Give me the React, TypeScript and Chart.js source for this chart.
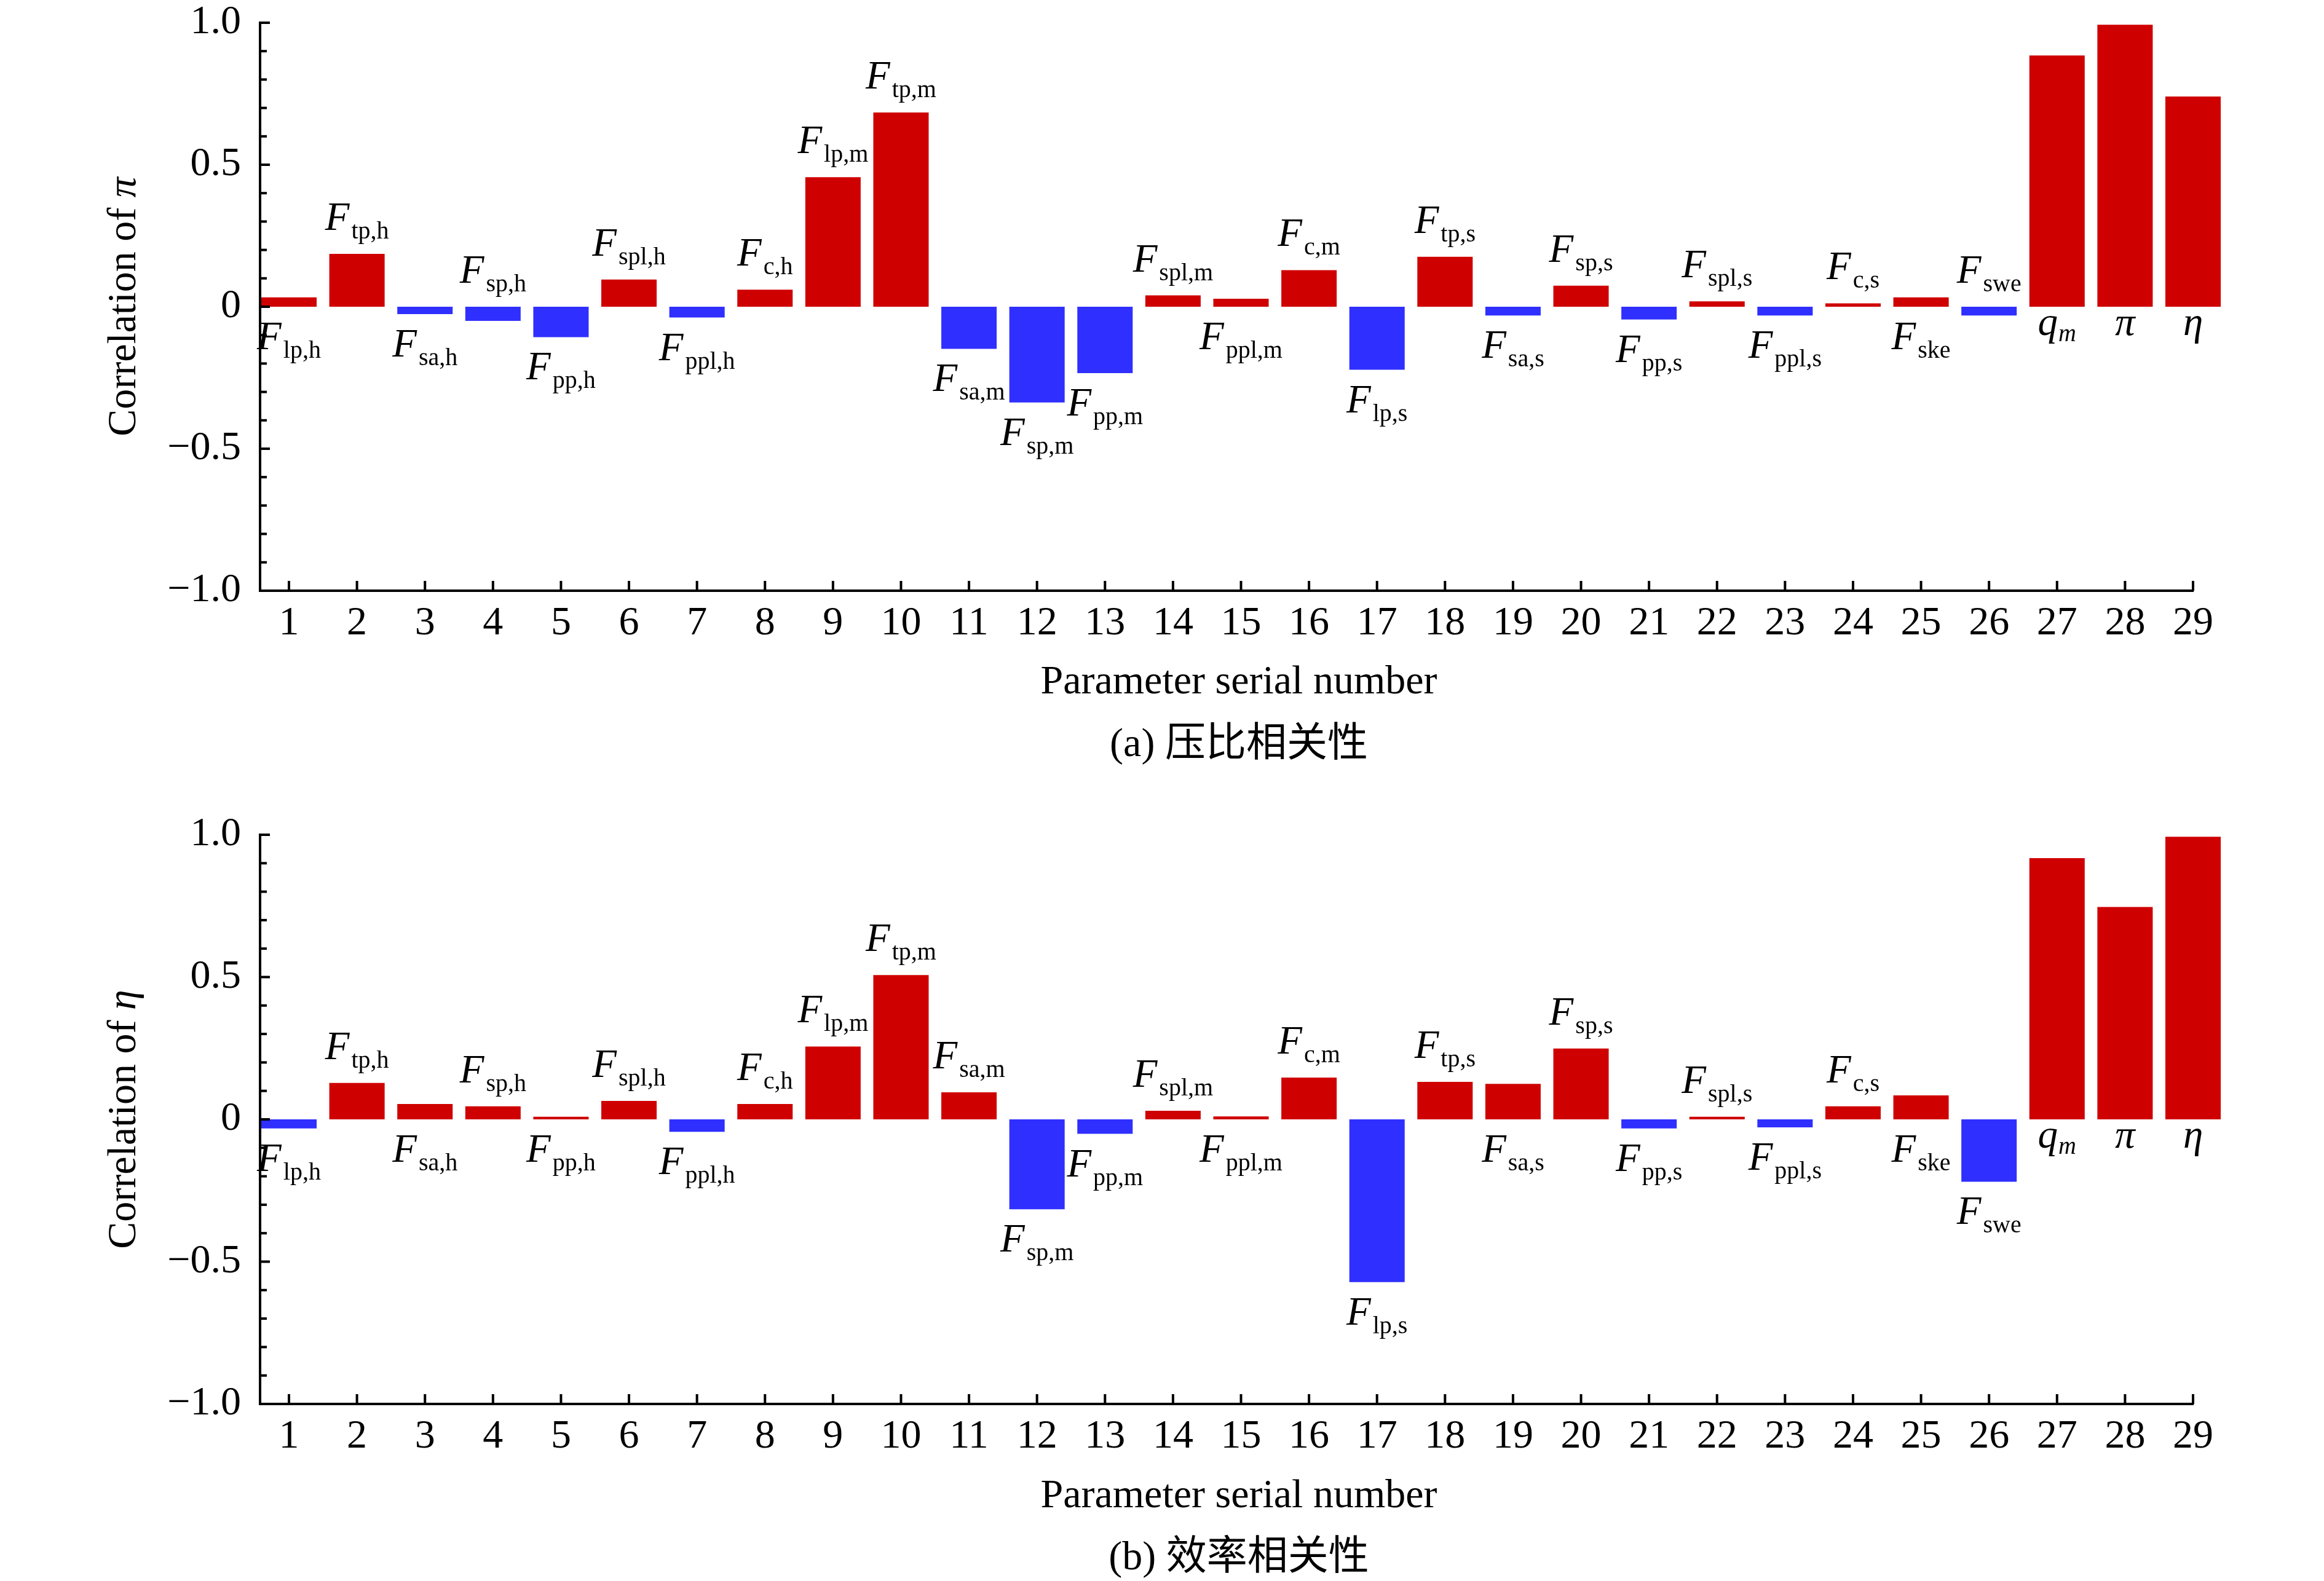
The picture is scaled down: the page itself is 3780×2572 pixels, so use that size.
import React, { useEffect, useRef } from 'react';
import { Chart, registerables } from 'chart.js';

Chart.register(...registerables);

// ---------- data ----------
const serialNumbers = [
  1, 2, 3, 4, 5, 6, 7, 8, 9, 10, 11, 12, 13, 14, 15, 16, 17, 18, 19, 20,
  21, 22, 23, 24, 25, 26, 27, 28, 29,
];

const piCorrelation = [
  0.033, 0.186, -0.026, -0.05, -0.107, 0.096, -0.038, 0.06, 0.456, 0.684,
  -0.148, -0.337, -0.234, 0.04, 0.028, 0.129, -0.222, 0.176, -0.031, 0.074,
  -0.045, 0.019, -0.031, 0.012, 0.033, -0.031, 0.885, 0.993, 0.74,
];

const etaCorrelation = [
  -0.032, 0.128, 0.054, 0.046, 0.009, 0.065, -0.044, 0.054, 0.256, 0.507,
  0.095, -0.316, -0.051, 0.03, 0.01, 0.147, -0.572, 0.132, 0.125, 0.249,
  -0.032, 0.009, -0.028, 0.046, 0.084, -0.219, 0.918, 0.746, 0.993,
];

const labelMain = [
  'F', 'F', 'F', 'F', 'F', 'F', 'F', 'F', 'F', 'F', 'F', 'F', 'F', 'F', 'F',
  'F', 'F', 'F', 'F', 'F', 'F', 'F', 'F', 'F', 'F', 'F', 'q', 'π', 'η',
];

const labelSub = [
  'lp,h', 'tp,h', 'sa,h', 'sp,h', 'pp,h', 'spl,h', 'ppl,h', 'c,h',
  'lp,m', 'tp,m', 'sa,m', 'sp,m', 'pp,m', 'spl,m', 'ppl,m', 'c,m',
  'lp,s', 'tp,s', 'sa,s', 'sp,s', 'pp,s', 'spl,s', 'ppl,s', 'c,s',
  'ske', 'swe', 'm', '', '',
];

// a = label above the bar, b = label below the bar
const piLabelSide = [
  'b', 'a', 'b', 'a', 'b', 'a', 'b', 'a', 'a', 'a', 'b', 'b', 'b', 'a', 'b',
  'a', 'b', 'a', 'b', 'a', 'b', 'a', 'b', 'a', 'b', 'a', 'b', 'b', 'b',
];

const etaLabelSide = [
  'b', 'a', 'b', 'a', 'b', 'a', 'b', 'a', 'a', 'a', 'a', 'b', 'b', 'a', 'b',
  'a', 'b', 'a', 'b', 'a', 'b', 'a', 'b', 'a', 'b', 'b', 'b', 'b', 'b',
];

const yTickValues = [-1, -0.5, 0, 0.5, 1];
const yMinorTickValues = [
  -0.9, -0.8, -0.7, -0.6, -0.4, -0.3, -0.2, -0.1, 0.1, 0.2, 0.3, 0.4, 0.6,
  0.7, 0.8, 0.9,
];

const xAxisTitle = 'Parameter serial number';
const captionA = '(a) 压比相关性';
const captionB = '(b) 效率相关性';

// ---------- style ----------
const RED = '#CF0000';
const BLUE = '#2F2FFF';
const SERIF = '"Liberation Serif", "Times New Roman", serif';
const CAPTION_FONT = '"Liberation Serif", "Noto Sans CJK SC", serif';
const W = 3780;
const H = 1286;

function formatY(v: number): string {
  if (Math.abs(v) < 1e-9) return '0';
  return v.toFixed(1).replace('-', '\u2212');
}

function makePlugin(
  values: number[],
  sides: string[],
  yLetter: string,
  caption: string,
  xTitleBase: number,
  captionBase: number,
) {
  return {
    id: 'annotations',
    afterDraw(chart: any) {
      const ctx = chart.ctx as CanvasRenderingContext2D;
      const xs = chart.scales.x;
      const ys = chart.scales.y;
      const area = chart.chartArea;
      ctx.save();
      ctx.fillStyle = '#000';
      ctx.strokeStyle = '#000';
      ctx.lineWidth = 4;
      ctx.lineCap = 'butt';

      // inward y ticks
      const drawYTick = (v: number, len: number) => {
        const y = ys.getPixelForValue(v);
        ctx.beginPath();
        ctx.moveTo(area.left, y);
        ctx.lineTo(area.left + len, y);
        ctx.stroke();
      };
      yTickValues.forEach((v) => drawYTick(v, 16));
      yMinorTickValues.forEach((v) => drawYTick(v, 11));

      // inward x ticks
      serialNumbers.forEach((s) => {
        const x = xs.getPixelForValue(s);
        ctx.beginPath();
        ctx.moveTo(x, area.bottom);
        ctx.lineTo(x, area.bottom - 16);
        ctx.stroke();
      });

      // bar labels
      const zero = ys.getPixelForValue(0);
      ctx.textBaseline = 'alphabetic';
      ctx.textAlign = 'left';
      values.forEach((v, i) => {
        const px = xs.getPixelForValue(serialNumbers[i]);
        const topPx = ys.getPixelForValue(Math.max(v, 0));
        const botPx = ys.getPixelForValue(Math.min(v, 0));
        const main = labelMain[i];
        const sub = labelSub[i];
        const special = main !== 'F';
        ctx.font = `italic 65px ${SERIF}`;
        const wMain = ctx.measureText(main).width;
        ctx.font = special ? `italic 40px ${SERIF}` : `40px ${SERIF}`;
        const wSub = sub ? ctx.measureText(sub).width : 0;
        const gap = sub ? (special ? 1 : 3) : 0;
        const total = wMain + gap + wSub;
        const x0 = px - total / 2;
        let mainBase: number;
        if (special) {
          mainBase = zero + 46;
        } else if (sides[i] === 'a') {
          mainBase = topPx - 25 - 14;
        } else {
          mainBase = botPx + 69;
        }
        const subBase = mainBase + (special ? 10 : 14);
        ctx.font = `italic 65px ${SERIF}`;
        ctx.fillText(main, x0, mainBase);
        if (sub) {
          ctx.font = special ? `italic 40px ${SERIF}` : `40px ${SERIF}`;
          ctx.fillText(sub, x0 + wMain + gap, subBase);
        }
      });

      // x axis title
      const cx = (area.left + area.right) / 2 + 20;
      ctx.textAlign = 'center';
      ctx.font = `66px ${SERIF}`;
      ctx.fillText(xAxisTitle, cx, xTitleBase);

      // caption
      ctx.font = `66px ${CAPTION_FONT}`;
      ctx.fillText(caption, cx, captionBase);

      // y axis title (rotated)
      const cy = (area.top + area.bottom) / 2;
      const part1 = 'Correlation of ';
      ctx.font = `66px ${SERIF}`;
      const w1 = ctx.measureText(part1).width;
      ctx.font = `italic 66px ${SERIF}`;
      const w2 = ctx.measureText(yLetter).width;
      ctx.translate(220, cy);
      ctx.rotate(-Math.PI / 2);
      ctx.textAlign = 'left';
      const start = -(w1 + w2) / 2;
      ctx.font = `66px ${SERIF}`;
      ctx.fillText(part1, start, 0);
      ctx.font = `italic 66px ${SERIF}`;
      ctx.fillText(yLetter, start + w1, 0);

      ctx.restore();
    },
  };
}

function buildChart(
  canvas: HTMLCanvasElement,
  values: number[],
  sides: string[],
  yLetter: string,
  caption: string,
  plotTop: number,
  plotBottom: number,
  xTitleBase: number,
  captionBase: number,
) {
  return new Chart(canvas, {
    type: 'bar',
    data: {
      datasets: [
        {
          data: serialNumbers.map((s, i) => ({ x: s, y: values[i] })),
          backgroundColor: values.map((v) => (v >= 0 ? RED : BLUE)),
          borderWidth: 0,
          categoryPercentage: 0.814,
          barPercentage: 1,
          clip: false,
        } as any,
      ],
    },
    options: {
      animation: false,
      responsive: false,
      maintainAspectRatio: false,
      devicePixelRatio: 1,
      events: [],
      layout: { padding: { left: 0, right: 213, top: plotTop, bottom: 0 } },
      plugins: {
        legend: { display: false },
        tooltip: { enabled: false },
        title: { display: false },
      },
      scales: {
        x: {
          type: 'linear',
          min: 0.575,
          max: 29,
          offset: false,
          grid: { display: false, drawTicks: false },
          border: { display: true, color: '#000', width: 4, z: 1 },
          afterBuildTicks: (scale: any) => {
            scale.ticks = serialNumbers.map((v) => ({ value: v }));
          },
          afterFit: (scale: any) => {
            scale.height = H - plotBottom;
            scale.paddingLeft = 0;
            scale.paddingRight = 0;
            scale.paddingTop = 0;
            scale.paddingBottom = 0;
          },
          ticks: {
            autoSkip: false,
            maxRotation: 0,
            minRotation: 0,
            padding: 14,
            color: '#000',
            font: { family: SERIF, size: 66, lineHeight: 1.2 },
            callback: (v: any) => String(v),
          },
        },
        y: {
          type: 'linear',
          min: -1,
          max: 1,
          grid: { display: false, drawTicks: false },
          border: { display: true, color: '#000', width: 4, z: 1 },
          afterBuildTicks: (scale: any) => {
            scale.ticks = yTickValues.map((v) => ({ value: v }));
          },
          afterFit: (scale: any) => {
            scale.width = 423;
            scale.paddingTop = 0;
            scale.paddingBottom = 0;
            scale.paddingLeft = 0;
            scale.paddingRight = 0;
          },
          ticks: {
            padding: 31,
            color: '#000',
            font: { family: SERIF, size: 66, lineHeight: 1.0 },
            callback: (v: any) => formatY(Number(v)),
          },
        },
      },
    } as any,
    plugins: [makePlugin(values, sides, yLetter, caption, xTitleBase, captionBase)],
  });
}

export default function App() {
  const topRef = useRef<HTMLCanvasElement | null>(null);
  const botRef = useRef<HTMLCanvasElement | null>(null);

  useEffect(() => {
    document.body.style.margin = '0';
    document.body.style.background = '#fff';
    const c1 = buildChart(topRef.current!, piCorrelation, piLabelSide, 'π', captionA, 37, 961, 1128, 1230);
    const c2 = buildChart(botRef.current!, etaCorrelation, etaLabelSide, 'η', captionB, 72, 998, 1166, 1267);
    return () => {
      c1.destroy();
      c2.destroy();
    };
  }, []);

  const canvasStyle: React.CSSProperties = {
    position: 'absolute',
    left: 0,
    width: W + 'px',
    height: H + 'px',
    display: 'block',
  };

  return (
    <div style={{ position: 'absolute', left: 0, top: 0, width: W, height: 2572, background: '#fff' }}>
      <canvas ref={topRef} width={W} height={H} style={{ ...canvasStyle, top: 0 }} />
      <canvas ref={botRef} width={W} height={H} style={{ ...canvasStyle, top: H }} />
    </div>
  );
}
